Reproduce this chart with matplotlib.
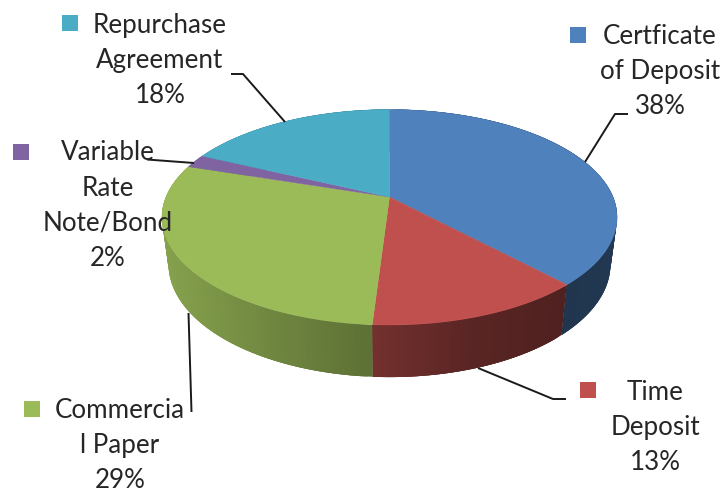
import numpy as np
import matplotlib.pyplot as plt

categories = ['Certficate\nof Deposit', 'Time\nDeposit', 'Commercia\nl Paper',
              'Variable\nRate\nNote/Bond', 'Repurchase\nAgreement']
values = [38, 13, 29, 2, 18]
colors = ['#4F81BD', '#C0504D', '#9BBB59', '#8064A2', '#4BACC6']

# side wall brightness against screen x
shade_x = [165, 270, 373, 470, 565, 620]
shade_k = [0.86, 0.72, 0.60, 0.47, 0.41, 0.43]

# label centre x, first line y, key square corner, leader line
label_x = [660, 655, 120, 108, 160]
label_y = [36, 392, 410, 153, 25]
key_xy = [(570, 27), (580, 382), (24, 401), (13, 144), (62, 15)]
leaders = [
    [(585, 162), (615, 114), (628, 114)],
    [(478, 368), (553, 399), (566, 399)],
    [(188.5, 313), (191.5, 412)],
    [(147, 159.5), (194, 163)],
    [(231, 74), (243, 74), (285, 122)],
]

LINE_STEP = 35
CX = 389.5
PERSP = 0.188


def rim(theta, width, slope, mid):
    # point on the disc edge, theta runs clockwise from 12 o'clock
    u = np.sin(theta)
    v = np.cos(theta)
    w = 1 + PERSP * v
    return CX + width * u / w, (slope * v + mid) / w


def top_rim(theta):
    return rim(theta, 223.5, -66.9, 197)


def bottom_rim(theta):
    return rim(theta, 217, -63.2, 243)


fig = plt.figure(figsize=(7.23, 4.91), dpi=100)
ax = fig.add_axes([0, 0, 1, 1])
ax.set_xlim(0, 723)
ax.set_ylim(491, 0)
ax.axis('off')

edges = np.cumsum([0] + values) / sum(values) * 2 * np.pi

# side wall first, the top faces cover whatever lies behind them
for i, color in enumerate(colors):
    rgb = np.array(plt.matplotlib.colors.to_rgb(color))
    steps = np.linspace(edges[i], edges[i + 1], max(values[i] * 3, 8) + 1)
    for s, a in enumerate(steps[:-1]):
        # each strip runs on under the next one, so no seams show
        b = steps[min(s + 3, len(steps) - 1)]
        t = np.linspace(a, b, 12)
        x1, y1 = top_rim(t)
        x2, y2 = bottom_rim(t[::-1])
        xa, _ = top_rim(np.array([a, steps[s + 1]]))
        k = np.interp(xa.mean(), shade_x, shade_k)
        ax.fill(np.r_[x1, x2], np.r_[y1, y2], color=tuple(rgb * k), lw=0, zorder=1)

for i, color in enumerate(colors):
    t = np.linspace(edges[i], edges[i + 1], 200)
    x, y = top_rim(t)
    ax.fill(np.r_[CX, x], np.r_[197, y], color=color, lw=0.3, zorder=2)

for line in leaders:
    xs, ys = zip(*line)
    ax.plot(xs, ys, color='#1a1a1a', lw=1.4, zorder=3, solid_capstyle='butt')

for i, name in enumerate(categories):
    lines = name.split('\n') + [f'{values[i]}%']
    for j, line in enumerate(lines):
        ax.text(label_x[i], label_y[i] + j * LINE_STEP, line, family='Lato',
                fontsize=18.7, color='#262626', ha='center', va='center', zorder=4)
    ax.add_patch(plt.Rectangle(key_xy[i], 16, 16, color=colors[i], lw=0, zorder=4))

fig.savefig('out.png', dpi=100)
